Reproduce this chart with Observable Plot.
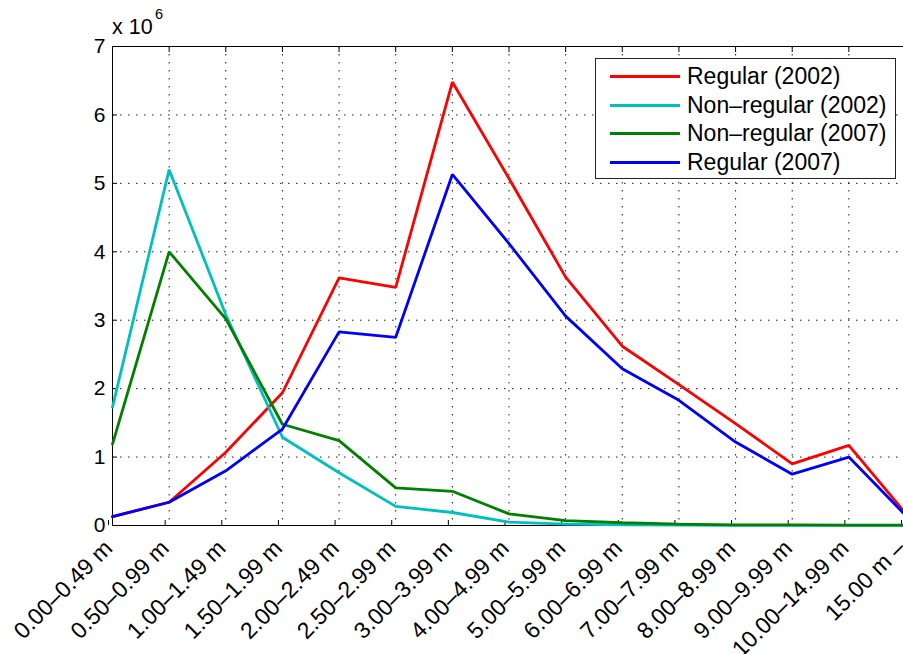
<!DOCTYPE html>
<html>
<head>
<meta charset="utf-8">
<script src="https://cdn.jsdelivr.net/npm/d3@7"></script>
<script src="https://cdn.jsdelivr.net/npm/@observablehq/plot@0.6"></script>
<style>
  html, body { margin: 0; padding: 0; background: #fff; overflow: hidden; }
  #wrap { position: relative; width: 903px; height: 654px; overflow: hidden; font-family: "Liberation Sans", Arial, Helvetica, sans-serif; color: #000; }
  #chart { position: absolute; left: 0; top: 0; }
  .mult { position: absolute; font-size: 21.5px; line-height: 22px; white-space: nowrap; }
  #legend { position: absolute; left: 595px; top: 58px; width: 299px; height: 119px; border: 1px solid #222; background: #fff; }
  .row { position: absolute; left: 0; height: 28px; width: 100%; }
  .swatch { position: absolute; left: 14px; width: 70px; height: 3px; top: 13px; }
  .lbl { position: absolute; left: 91px; top: 0; font-size: 23px; line-height: 28px; white-space: nowrap; }
</style>
</head>
<body>
<div id="wrap">
  <div id="chart"></div>
  <div class="mult" style="left:112px;top:16px;">x 10</div>
  <div class="mult" style="left:155px;top:7px;font-size:14.5px;line-height:14px;">6</div>
  <div id="legend"></div>
</div>
<script>
// Height classes (water depth bands)
const categories = [
  "0.00–0.49 m", "0.50–0.99 m", "1.00–1.49 m", "1.50–1.99 m", "2.00–2.49 m",
  "2.50–2.99 m", "3.00–3.99 m", "4.00–4.99 m", "5.00–5.99 m", "6.00–6.99 m",
  "7.00–7.99 m", "8.00–8.99 m", "9.00–9.99 m", "10.00–14.99 m", "15.00 m –"
];

// Counts per class, in millions
const regular2002    = [0.13, 0.34, 1.07, 1.94, 3.62, 3.48, 6.48, 5.07, 3.63, 2.62, 2.06, 1.49, 0.90, 1.17, 0.18];
const nonRegular2002 = [1.73, 5.20, 3.08, 1.29, 0.77, 0.28, 0.19, 0.05, 0.02, 0.01, 0.005, 0.003, 0.002, 0.002, 0.001];
const nonRegular2007 = [1.19, 4.00, 3.02, 1.48, 1.24, 0.55, 0.50, 0.17, 0.07, 0.04, 0.02, 0.01, 0.008, 0.006, 0.004];
const regular2007    = [0.13, 0.34, 0.80, 1.41, 2.83, 2.75, 5.13, 4.12, 3.06, 2.29, 1.83, 1.22, 0.75, 1.00, 0.15];

const seriesNames  = ["Regular (2002)", "Non–regular (2002)", "Non–regular (2007)", "Regular (2007)"];
const seriesValues = [regular2002, nonRegular2002, nonRegular2007, regular2007];
const seriesColors = ["#ff0000", "#00bfbf", "#008000", "#0000ff"];

const yTicks = [0, 1, 2, 3, 4, 5, 6, 7];
const scale = 1e6;

// class index positions along x; labels come from the category names
const xTicks = categories.map((_, i) => i);
const yTickValues = yTicks.map(d => d * scale);

const rows = seriesNames.flatMap((name, s) =>
  categories.map((cat, i) => ({name, cat, idx: i, value: seriesValues[s][i] * scale}))
);

const dotted = {stroke: "#000", strokeOpacity: 0.9, strokeDasharray: "1.5,6.5", strokeWidth: 1};

const chart = Plot.plot({
  width: 903,
  height: 654,
  marginLeft: 112,
  marginRight: 0,
  marginTop: 46,
  marginBottom: 129,
  style: {fontFamily: "'Liberation Sans', Arial, Helvetica, sans-serif", fontSize: "21px", background: "#fff", color: "#000", maxWidth: "none"},
  x: {domain: [0, categories.length - 1], range: [112, 905]},
  y: {domain: [0, 7 * scale]},
  color: {domain: seriesNames, range: seriesColors},
  marks: [
    Plot.gridX({ticks: xTicks, ...dotted}),
    Plot.gridY({ticks: yTickValues, ...dotted}),
    // axes box: top, bottom and left edges
    Plot.ruleY([7 * scale, 0], {stroke: "#000", strokeWidth: 1}),
    Plot.ruleX([0], {stroke: "#000", strokeWidth: 1}),
    Plot.axisY({ticks: yTickValues, tickSize: -5, tickPadding: 12, tickFormat: d => d / scale, label: null}),
    Plot.axisX({ticks: xTicks, tickSize: -5, tickPadding: 24, dx: -4, tickRotate: -45, tickFormat: i => categories[i], fontSize: 23, label: null}),
    Plot.axisX({ticks: xTicks, anchor: "top", tickSize: -5, tickFormat: () => "", label: null}),
    Plot.line(rows, {x: "idx", y: "value", z: "name", stroke: "name", strokeWidth: 2.8, strokeLinejoin: "miter"})
  ]
});
document.getElementById("chart").appendChild(chart);

// Legend box
const legend = document.getElementById("legend");
seriesNames.forEach((name, i) => {
  const row = document.createElement("div");
  row.className = "row";
  row.style.top = (3 + i * 28.7) + "px";
  row.innerHTML = `<div class="swatch" style="background:${seriesColors[i]}"></div><div class="lbl">${name}</div>`;
  legend.appendChild(row);
});
</script>
</body>
</html>
